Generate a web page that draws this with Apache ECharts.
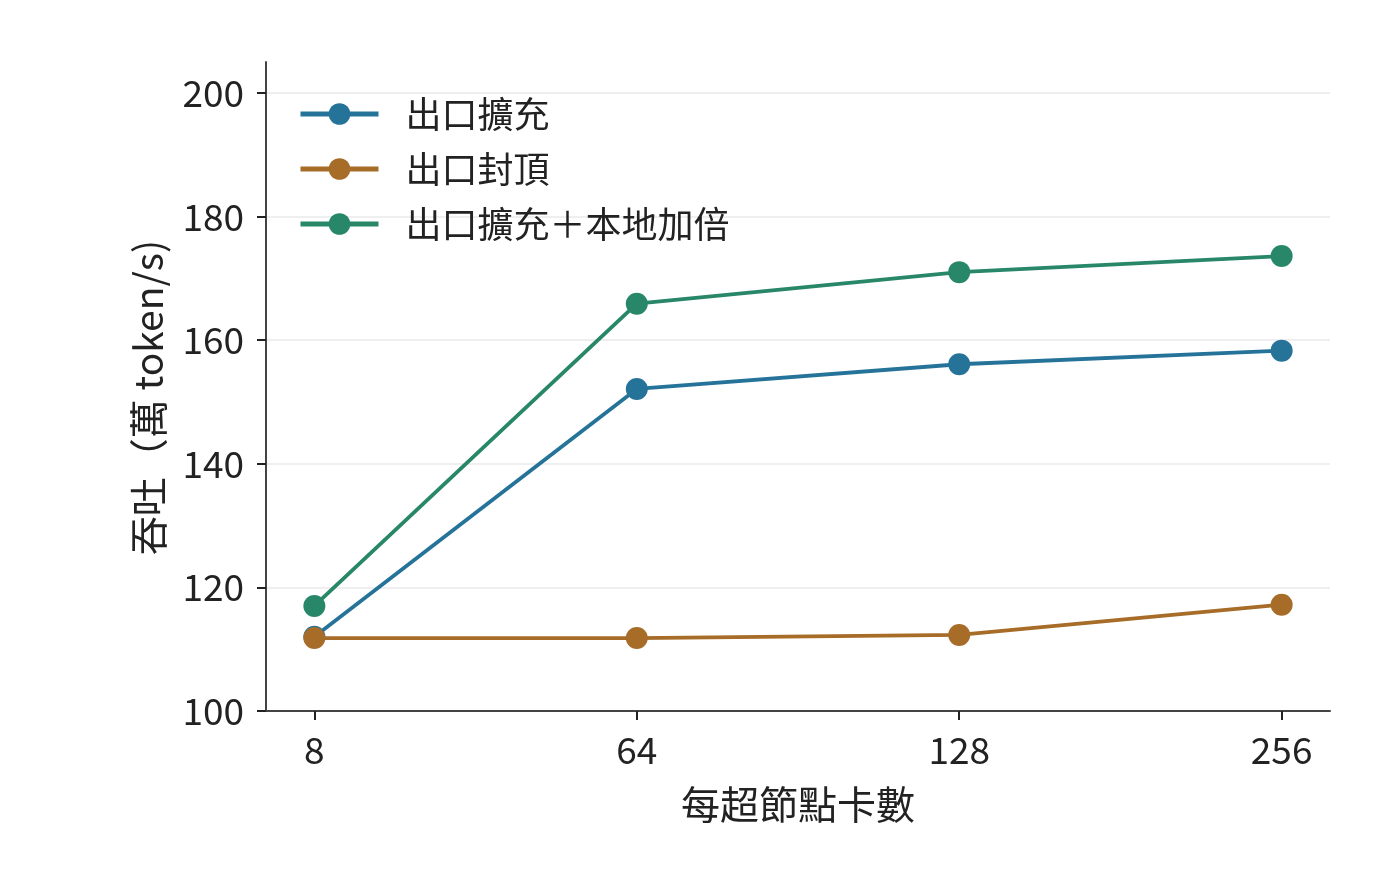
<!DOCTYPE html>
<html>
<head>
<meta charset="utf-8">
<script src="https://cdn.jsdelivr.net/npm/echarts@6/dist/echarts.min.js"></script>
<style>
html,body{margin:0;padding:0;background:#fff;}
#main{width:1400px;height:888px;}
</style>
</head>
<body>
<div id="main"></div>
<script>
var categories = ['8', '64', '128', '256'];
var yTicks = [100, 120, 140, 160, 180, 200];
var seriesNames = ['出口擴充', '出口封頂', '出口擴充＋本地加倍'];
var expandVals = [112.0, 152.1, 156.1, 158.3];
var capVals = [111.8, 111.8, 112.3, 117.2];
var doubleVals = [117.0, 165.9, 171.0, 173.6];
var colors = ['#26739a', '#a66c28', '#288769'];

var FONT = '"Noto Sans CJK TC", "Noto Sans CJK SC", sans-serif';
var pos = categories.map(function(c, i){ return i; });

function pts(vals){
	return vals.map(function(v, i){ return [i, v]; });
}

var myChart = echarts.init(document.getElementById('main'));

var mk = function(name, vals, color){
	return {
		name: name,
		type: 'line',
		data: pts(vals),
		symbol: 'circle',
		symbolSize: 22,
		lineStyle: { width: 3.8, color: color },
		itemStyle: { color: color },
		z: 3
	};
};

var option = {
	animation: false,
	backgroundColor: '#fff',
	textStyle: { fontFamily: FONT },
	grid: { left: 266, right: 70, top: 62, bottom: 177 },
	legend: {
		left: 298, top: 96, orient: 'vertical', padding: 0,
		itemWidth: 78, itemHeight: 27, itemGap: 19,
		lineStyle: { width: 5 },
		textStyle: { fontSize: 36, color: '#222', fontFamily: FONT, padding: [0, 0, 0, 22] },
		data: seriesNames
	},
	xAxis: {
		type: 'value',
		min: -0.15, max: 3.15,
		name: '每超節點卡數',
		nameLocation: 'middle',
		nameGap: 74,
		nameTextStyle: { fontSize: 39, color: '#222', fontFamily: FONT },
		axisLine: { onZero: false, lineStyle: { color: '#444', width: 2 } },
		axisTick: { show: true, customValues: pos, length: 9, lineStyle: { color: '#222', width: 2 } },
		axisLabel: {
			customValues: pos, fontSize: 37, color: '#222', margin: 20, fontFamily: FONT,
			formatter: function(v){ return categories[Math.round(v)]; }
		},
		splitLine: { show: false }
	},
	yAxis: {
		type: 'value',
		min: yTicks[0], max: 205, interval: 20,
		name: '吞吐（萬 token/s)',
		nameLocation: 'middle',
		nameGap: 98,
		nameRotate: 90,
		nameTextStyle: { fontSize: 39, color: '#222', fontFamily: FONT, padding: [0, 22, 0, 0] },
		axisLine: { show: true, onZero: false, lineStyle: { color: '#444', width: 2 } },
		axisTick: { show: true, length: 9, lineStyle: { color: '#222', width: 2 } },
		axisLabel: { fontSize: 37, color: '#222', margin: 22, fontFamily: FONT },
		splitLine: { show: true, showMinLine: false, showMaxLine: false, lineStyle: { color: '#efefef', width: 2 } }
	},
	series: [
		mk(seriesNames[0], expandVals, colors[0]),
		mk(seriesNames[1], capVals, colors[1]),
		mk(seriesNames[2], doubleVals, colors[2])
	]
};

myChart.setOption(option);
</script>
</body>
</html>
